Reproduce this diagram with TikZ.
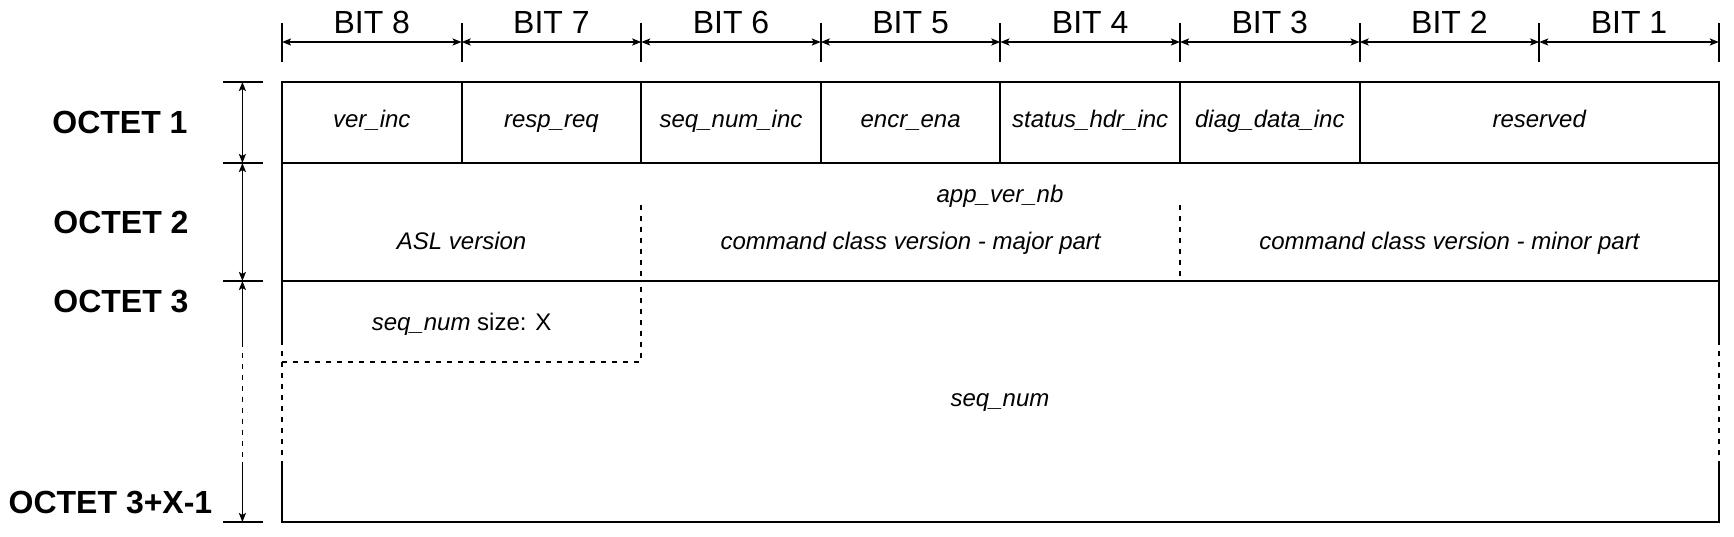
\documentclass[tikz,border=0pt]{standalone}
\usepackage{fontspec}
\setmainfont{Liberation Sans}
\usetikzlibrary{arrows.meta}
\tikzset{
  frame/.style={line width=1pt},
  dashframe/.style={line width=1pt,dash pattern=on 2.5pt off 3pt},
  tick/.style={line width=1pt},
  dim/.style={line width=0.9pt,{Stealth[length=4.5pt,width=3.5pt,inset=1pt]}-{Stealth[length=4.5pt,width=3.5pt,inset=1pt]}},
  dimup/.style={line width=0.9pt,{Stealth[length=4.5pt,width=3.5pt,inset=1pt]}-},
  dimdown/.style={line width=0.9pt,-{Stealth[length=4.5pt,width=3.5pt,inset=1pt]}},
  bitlbl/.style={anchor=base,inner sep=0pt,font=\fontsize{16pt}{19pt}\selectfont},
  octlbl/.style={anchor=base,inner sep=0pt,font=\fontsize{16pt}{19pt}\selectfont\bfseries},
  field/.style={anchor=base,inner sep=0pt,font=\fontsize{12pt}{14pt}\selectfont\itshape}
}
\begin{document}
\begin{tikzpicture}[x=0.5pt,y=-0.5pt]
\useasboundingbox (0,0) rectangle (1734,536);
% bit ruler on top
\foreach \i in {0,...,8} {
  \coordinate (t\i) at ({282+179.6*\i},42);
  \draw[tick] (t\i) ++(0,-19) -- ++(0,39);
}
\foreach \i in {0,...,7} {
  \pgfmathtruncatemacro{\k}{\i+1}
  \pgfmathtruncatemacro{\b}{8-\i}
  \draw[dim] (t\i) -- (t\k);
  \node[bitlbl] (bit\b) at ({282+179.6*(\i+0.5)},33) {BIT \b};
}
% octet ruler on the left
\coordinate (o0) at (242.4,82);
\coordinate (o1) at (242.4,163);
\coordinate (o2) at (242.4,281);
\coordinate (oa) at (242.4,341.7);
\coordinate (ob) at (242.4,461.7);
\coordinate (o3) at (242.4,522);
\foreach \o in {o0,o1,o2,o3}
  \draw[tick] (\o) ++(-19.4,0) -- ++(39.5,0);
\draw[dim] (o0) -- (o1);
\draw[dim] (o1) -- (o2);
\draw[dimup] (o2) -- (oa);
\draw[dashframe,line width=0.9pt] (oa) -- (ob);
\draw[dimdown] (ob) -- (o3);
\node[octlbl] (oct1) at (120,133) {OCTET 1};
\node[octlbl] (oct2) at (121,233) {OCTET 2};
\node[octlbl] (oct3) at (121,312.7) {OCTET 3};
\node[octlbl] (octx) at (110.5,513) {OCTET 3+X-1};
% frame
\draw[frame] (282,340) -- (282,82) -- (1718.6,82) -- (1718.6,340);
\draw[dashframe] (282,340) -- (282,461);
\draw[dashframe] (1718.6,340) -- (1718.6,461);
\draw[frame] (282,461) -- (282,522) -- (1718.6,522) -- (1718.6,461);
\draw[frame] (282,163) -- (1718.6,163);
\draw[frame] (282,281) -- (1718.6,281);
% octet 1
\foreach \i in {1,...,6}
  \draw[frame] ({282+179.6*\i},82) -- ({282+179.6*\i},163);
\node[field] (verinc) at ({282+179.6*0.5},127) {ver\_inc};
\node[field] (respreq) at ({282+179.6*1.5},127) {resp\_req};
\node[field] (seqinc) at ({282+179.6*2.5},127) {seq\_num\_inc};
\node[field] (encr) at ({282+179.6*3.5},127) {encr\_ena};
\node[field] (status) at ({282+179.6*4.5},127) {status\_hdr\_inc};
\node[field] (diag) at ({282+179.6*5.5},127) {diag\_data\_inc};
\node[field] (resv) at ({282+179.6*7},127) {reserved};
% octet 2
\draw[dashframe] ({282+179.6*2},205) -- ({282+179.6*2},281);
\draw[dashframe] ({282+179.6*5},205) -- ({282+179.6*5},281);
\node[field] (appver) at (1000,202) {app\_ver\_nb};
\node[field] (asl) at ({282+179.6*1},249) {ASL version};
\node[field] (major) at ({282+179.6*3.5},249) {command class version - major part};
\node[field] (minor) at ({282+179.6*6.5},249) {command class version - minor part};
% octet 3 .. 3+X-1
\draw[dashframe] (282,362) -- ({282+179.6*2},362) -- ({282+179.6*2},281);
\node[field] (size) at ({282+179.6*1},330) {seq\_num \upshape size: X};
\node[field] (seqnum) at (1000,406) {seq\_num};
\end{tikzpicture}
\end{document}
